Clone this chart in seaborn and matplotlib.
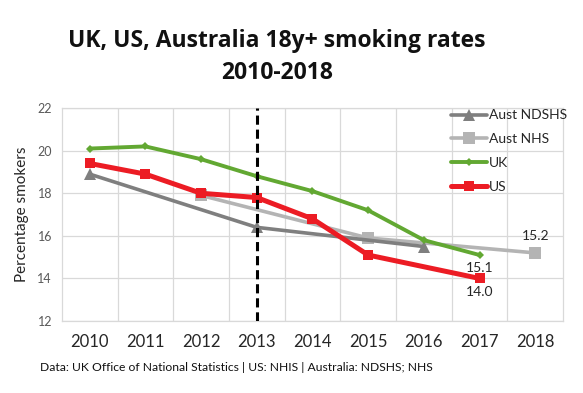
import numpy as np
import pandas as pd
import matplotlib
matplotlib.use("Agg")
import matplotlib.pyplot as plt
import seaborn as sns

# data (gaps = no survey that year)
years = [2010, 2011, 2012, 2013, 2014, 2015, 2016, 2017, 2018]
aust_ndshs = [18.9, np.nan, np.nan, 16.4, np.nan, np.nan, 15.5, np.nan, np.nan]
aust_nhs = [np.nan, np.nan, 17.9, np.nan, np.nan, 15.9, np.nan, np.nan, 15.2]
uk = [20.1, 20.2, 19.6, 18.8, 18.1, 17.2, 15.8, 15.1, np.nan]
us = [19.4, 18.9, 18.0, 17.8, 16.8, 15.1, np.nan, 14.0, np.nan]
y_ticks = [12, 14, 16, 18, 20, 22]

df = pd.DataFrame({"year": years, "Aust NDSHS": aust_ndshs, "Aust NHS": aust_nhs,
                   "UK": uk, "US": us})
long = df.melt(id_vars="year", var_name="series", value_name="value").dropna()

sns.set_style("white")
plt.rcParams["font.family"] = ["Lato", "DejaVu Sans"]

fig = plt.figure(figsize=(5.83, 3.93), dpi=100)
ax = fig.add_axes([0.106, 0.183, 0.86, 0.542])

# name, colour, marker, marker size, line width, zorder
styles = [
    ("Aust NDSHS", "#7f7f7f", "^", 8, 2.6, 3),
    ("Aust NHS", "#b4b4b4", "s", 8, 2.6, 2),
    ("UK", "#62a832", "D", 4, 2.8, 4),
    ("US", "#ec1c24", "s", 7, 3.6, 5),
]
for name, col, mk, ms, lw, z in styles:
    d = long[long["series"] == name]
    sns.lineplot(data=d, x="year", y="value", ax=ax, color=col, marker=mk,
                 markersize=ms, linewidth=lw, markeredgecolor=col,
                 markeredgewidth=0, label=name, zorder=z)

ax.axvline(2013, color="black", linestyle=(0, (3, 1.6)), linewidth=2.2, zorder=6)

ax.set_xlim(2009.5, 2018.5)
ax.set_ylim(12, 22)
ax.set_xticks(years)
ax.set_xticks([y + 0.5 for y in years[:-1]], minor=True)
ax.set_yticks(y_ticks)
ax.grid(True, which="minor", axis="x", color="#d9d9d9", linewidth=0.9)
ax.grid(True, which="major", axis="y", color="#d9d9d9", linewidth=0.9)
ax.tick_params(axis="x", which="both", length=0, labelsize=12, labelcolor="#262626", pad=9)
ax.tick_params(axis="y", length=0, labelsize=9, labelcolor="#595959", pad=7)
for s in ax.spines.values():
    s.set_color("#d9d9d9")
    s.set_linewidth(0.9)
ax.set_xlabel("")
ax.set_ylabel("Percentage smokers", fontsize=11, color="#262626", labelpad=6)

# end-point labels
ax.annotate(f"{uk[7]:.1f}", (2017, uk[7]), xytext=(0, -9), textcoords="offset points",
            ha="center", va="center", fontsize=10, color="#262626", zorder=7)
ax.annotate(f"{us[7]:.1f}", (2017, us[7]), xytext=(0, -9.5), textcoords="offset points",
            ha="center", va="center", fontsize=10, color="#262626")
ax.annotate(f"{aust_nhs[8]:.1f}", (2018, aust_nhs[8]), xytext=(0, 12), textcoords="offset points",
            ha="center", va="center", fontsize=10, color="#262626")

ax.legend(loc="upper left", bbox_to_anchor=(0.765, 1.02), frameon=False, fontsize=10,
          handlelength=2.6, handletextpad=0.15, labelspacing=0.85, borderaxespad=0,
          labelcolor="#262626")

fig.text(0.475, 0.855, "UK, US, Australia 18y+ smoking rates\n2010-2018", ha="center",
         va="center", fontsize=16.5, fontweight="bold", color="#111111", linespacing=1.4,
         family=["Open Sans", "DejaVu Sans"])
fig.text(0.068, 0.066, "Data: UK Office of National Statistics | US: NHIS | Australia: NDSHS; NHS",
         fontsize=8.7, color="#111111", va="center")

fig.savefig("out.png", dpi=100)
